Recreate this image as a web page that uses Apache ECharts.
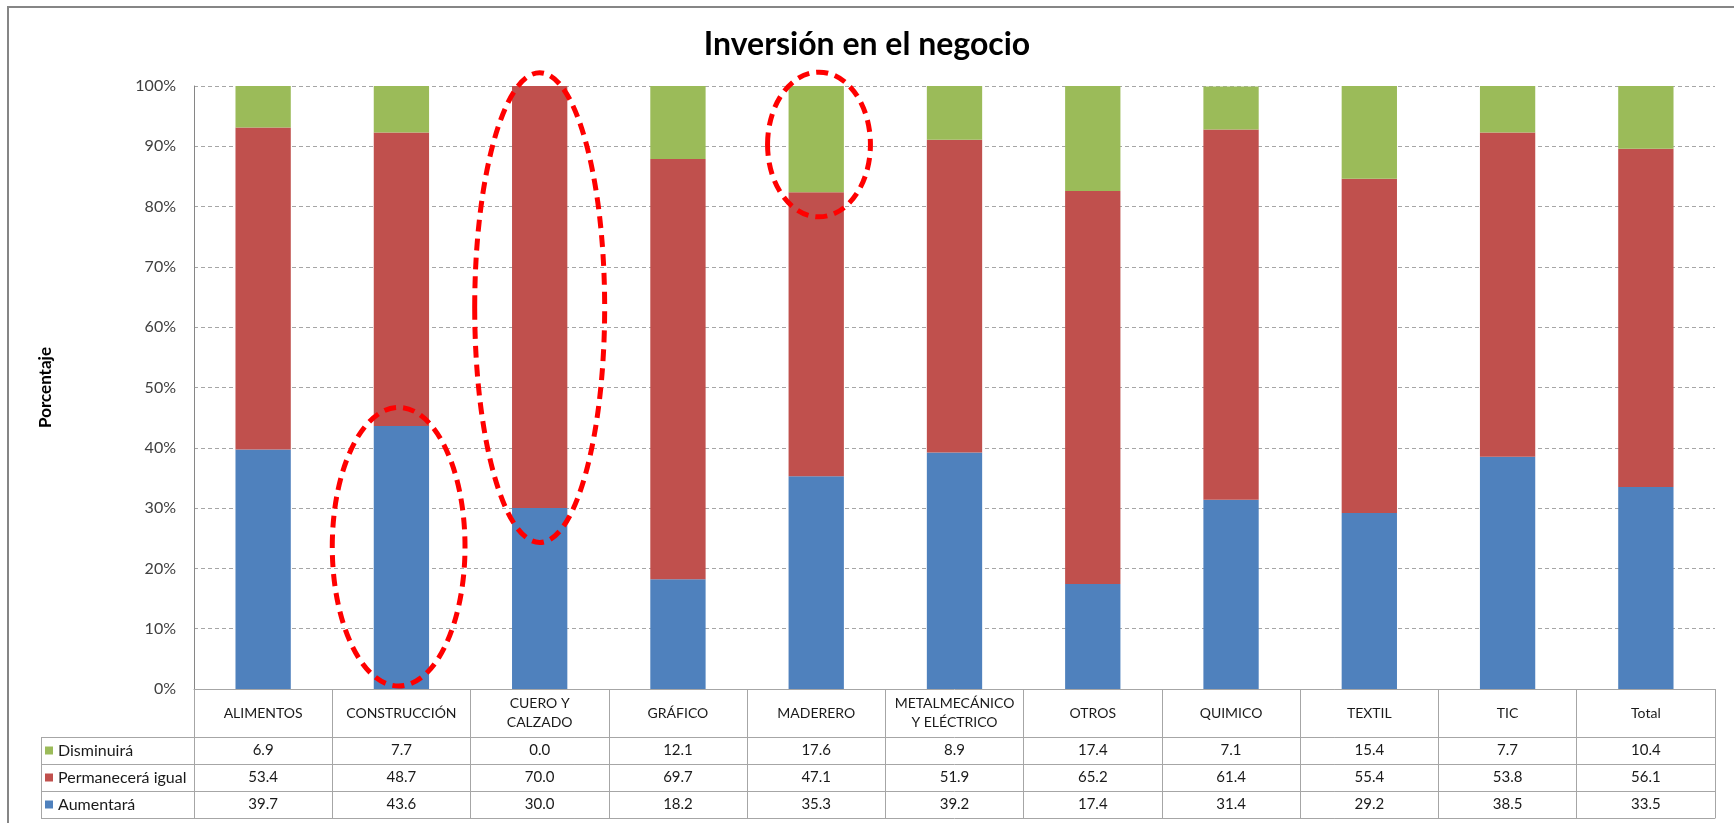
<!DOCTYPE html>
<html>
<head>
<meta charset="utf-8">
<title>Inversión en el negocio</title>
<script src="https://cdn.jsdelivr.net/npm/echarts@6/dist/echarts.min.js"></script>
<style>
  html, body { margin: 0; padding: 0; background: #fff; }
  #chart { width: 1734px; height: 823px; }
</style>
</head>
<body>
<div id="chart"></div>
<script>
// Sector names (table header row) and the three answer shares, in percent
const categories = ['ALIMENTOS', 'CONSTRUCCIÓN', 'CUERO Y\nCALZADO', 'GRÁFICO', 'MADERERO',
  'METALMECÁNICO\nY ELÉCTRICO', 'OTROS', 'QUIMICO', 'TEXTIL', 'TIC', 'Total'];
const disminuira  = [6.9, 7.7, 0.0, 12.1, 17.6, 8.9, 17.4, 7.1, 15.4, 7.7, 10.4];
const permanecera = [53.4, 48.7, 70.0, 69.7, 47.1, 51.9, 65.2, 61.4, 55.4, 53.8, 56.1];
const aumentara   = [39.7, 43.6, 30.0, 18.2, 35.3, 39.2, 17.4, 31.4, 29.2, 38.5, 33.5];
const seriesNames = ['Disminuirá', 'Permanecerá igual', 'Aumentará'];

// Layout
const FONT = 'Lato, "Open Sans", sans-serif';
const GRID = { left: 194, right: 19, top: 86, bottom: 134 };
const HEADER_H = 48;       // category row of the table
const ROW_H = 27;          // each value row
const LEGEND_LEFT = 41;    // left edge of the table's legend column
const LINE = '#a6a6a6';
const COLORS = { 'Disminuirá': '#9bbb59', 'Permanecerá igual': '#c0504d', 'Aumentará': '#4f81bd' };

// Dashed red ellipses highlighting a few bars: category index, value span, half width in bands
const highlights = [
  { index: 1, from: 0.5, to: 46.7, halfWidth: 0.48, shift: -0.02 },
  { index: 2, from: 24.3, to: 102.2, halfWidth: 0.47, shift: 0.0 },
  { index: 4, from: 78.3, to: 102.3, halfWidth: 0.372, shift: 0.02 }
];

const chart = echarts.init(document.getElementById('chart'), null, { renderer: 'canvas' });
const H = 823, W = 1734;
const tableTop = H - GRID.bottom;

function tableAxis(offset, tickLen, formatter, margin, showLabel, showTick, fontSize) {
  return {
    type: 'category',
    gridIndex: 0,
    position: 'bottom',
    offset: offset,
    data: categories,
    boundaryGap: true,
    silent: true,
    axisLine: { show: true, lineStyle: { color: LINE, width: 1 } },
    axisTick: { show: showTick, interval: 0, length: tickLen, inside: false, lineStyle: { color: LINE, width: 1 } },
    axisLabel: {
      show: showLabel, interval: 0, margin: margin, formatter: formatter,
      verticalAlign: 'middle', align: 'center',
      fontFamily: FONT, fontSize: fontSize, lineHeight: 19, color: '#1a1a1a', hideOverlap: false
    },
    splitLine: { show: false },
    axisPointer: { show: false }
  };
}

const rowTops = [0, 1, 2].map(i => tableTop + HEADER_H + i * ROW_H);

const xAxes = [
  tableAxis(0, HEADER_H, v => v, HEADER_H / 2, true, true, 14),
  tableAxis(HEADER_H, ROW_H, (v, i) => disminuira[i].toFixed(1), ROW_H / 2, true, true, 15),
  tableAxis(HEADER_H + ROW_H, ROW_H, (v, i) => permanecera[i].toFixed(1), ROW_H / 2, true, true, 15),
  tableAxis(HEADER_H + 2 * ROW_H, ROW_H, (v, i) => aumentara[i].toFixed(1), ROW_H / 2, true, true, 15),
  tableAxis(HEADER_H + 3 * ROW_H, 0, v => '', 0, false, false, 15)
];

const legends = seriesNames.map((name, i) => ({
  data: [name],
  orient: 'horizontal',
  left: LEGEND_LEFT + 4,
  top: rowTops[i] + (ROW_H - 18) / 2,
  padding: 0,
  icon: 'rect',
  itemWidth: 8,
  itemHeight: 8,
  selectedMode: false,
  textStyle: { fontFamily: FONT, fontSize: 16, lineHeight: 18, color: '#1a1a1a', padding: [0, 0, 0, 0] }
}));

// Lines closing the legend column of the table
const tableGraphics = [];
tableGraphics.push({
  type: 'line', silent: true, z: 5,
  shape: { x1: LEGEND_LEFT + 0.5, y1: rowTops[0], x2: LEGEND_LEFT + 0.5, y2: rowTops[2] + ROW_H },
  style: { stroke: LINE, lineWidth: 1 }
});
[0, 1, 2, 3].forEach(i => {
  const y = rowTops[0] + i * ROW_H + 0.5;
  tableGraphics.push({
    type: 'line', silent: true, z: 5,
    shape: { x1: LEGEND_LEFT, y1: y, x2: GRID.left, y2: y },
    style: { stroke: LINE, lineWidth: 1 }
  });
});

const option = {
  backgroundColor: '#ffffff',
  animation: false,
  title: {
    text: 'Inversión en el negocio',
    left: 'center',
    top: 24,
    textStyle: { fontFamily: FONT, fontSize: 32, fontWeight: 'bold', color: '#000' }
  },
  legend: legends,
  grid: { left: GRID.left, right: GRID.right, top: GRID.top, bottom: GRID.bottom, containLabel: false },
  xAxis: xAxes,
  yAxis: {
    type: 'value',
    min: 0, max: 100, interval: 10,
    name: 'Porcentaje',
    nameLocation: 'middle',
    nameGap: 140,
    nameRotate: 90,
    nameTextStyle: { fontFamily: FONT, fontSize: 17, fontWeight: 'bold', color: '#000' },
    axisLine: { show: true, lineStyle: { color: '#868686', width: 1 } },
    axisTick: { show: false },
    axisLabel: { formatter: '{value}%', margin: 18, fontFamily: FONT, fontSize: 16, color: '#404040' },
    splitLine: { show: true, lineStyle: { color: '#a6a6a6', type: [4, 3], width: 1 } }
  },
  series: [
    { name: 'Aumentará', data: aumentara },
    { name: 'Permanecerá igual', data: permanecera },
    { name: 'Disminuirá', data: disminuira }
  ].map(s => ({
    name: s.name,
    type: 'bar',
    stack: 'total',
    xAxisIndex: 0,
    barWidth: '40%',
    data: s.data,
    itemStyle: { color: COLORS[s.name] },
    emphasis: { disabled: true }
  })),
  graphic: [
    {
      type: 'rect', silent: true, z: 0,
      shape: { x: 8, y: 7, width: W + 40, height: H + 40 },
      style: { fill: 'none', stroke: '#868686', lineWidth: 2 }
    }
  ].concat(tableGraphics)
};

chart.setOption(option);

// Dashed ellipses placed through the chart's own scales
function drawHighlights() {
  const ellipses = highlights.map((h, k) => {
    const c = chart.convertToPixel({ gridIndex: 0 }, [h.index, h.from]);
    const t = chart.convertToPixel({ gridIndex: 0 }, [h.index, h.to]);
    const next = chart.convertToPixel({ gridIndex: 0 }, [h.index + 1, h.from]);
    const band = next[0] - c[0];
    return {
      id: 'highlight' + k,
      type: 'ellipse',
      silent: true,
      z: 100,
      shape: { cx: c[0] + h.shift * band, cy: (c[1] + t[1]) / 2, rx: h.halfWidth * band, ry: Math.abs(c[1] - t[1]) / 2 },
      style: { fill: 'none', stroke: '#ff0000', lineWidth: 5, lineDash: [12, 7] }
    };
  });
  chart.setOption({ graphic: ellipses });
}
drawHighlights();
</script>
</body>
</html>
